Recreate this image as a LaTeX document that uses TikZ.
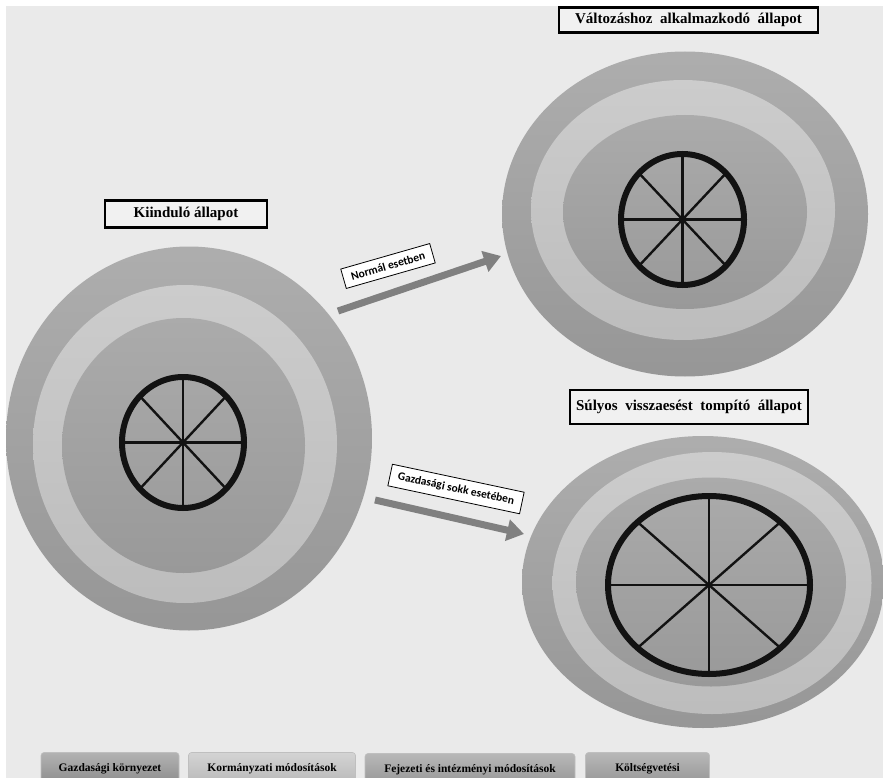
\documentclass[tikz,border=0pt]{standalone}
\usepackage{fontspec}
\setmainfont{Liberation Serif}
\newfontfamily\labelfont{Carlito}
\usetikzlibrary{arrows.meta}
\definecolor{bg}{HTML}{EAEAEA}
\definecolor{arrowgray}{HTML}{808080}
\definecolor{titlefill}{HTML}{F1F1F1}
\tikzset{
  outerring/.style={top color=black!32, bottom color=black!41},
  midring/.style={top color=black!20, bottom color=black!26},
  innerring/.style={top color=black!33, bottom color=black!40},
  spoke/.style={draw=black!93, line width=2.4pt},
  rim/.style={draw=black!93, line width=6pt},
  titlebox/.style={draw=black, line width=2.2pt, fill=titlefill, inner sep=0pt,
    font=\bfseries\fontsize{15}{18}\selectfont},
  bigarrow/.style={draw=arrowgray, line width=7pt, -{Triangle[length=17pt,width=21pt]}},
  lab/.style={draw=black, fill=white, line width=0.8pt, inner xsep=8pt, inner ysep=6pt,
    font=\labelfont\bfseries\fontsize{11.5}{13}\selectfont},
  legbtn/.style={rounded corners=3pt, draw=black!25, line width=0.6pt, inner sep=0pt,
    minimum height=29pt, text depth=0pt, font=\bfseries\fontsize{11.5}{13}\selectfont}
}
\newcommand\mywheel[5]{%
  \coordinate (#1) at (#2,#3);
  \foreach \a in {0,45,...,315}{\draw[spoke] (#1) -- ++({#4*cos(\a)},{#5*sin(\a)});}
  \draw[rim] (#1) ellipse [x radius=#4pt, y radius=#5pt];
}
\begin{document}
\begin{tikzpicture}[x=1pt,y=-1pt]
\useasboundingbox (0,0) rectangle (883,778);
\fill[white] (0,0) rectangle (883,778);
\fill[bg] (6,6) rectangle (883,778);
\begin{scope}
\clip (6,6) rectangle (883,778);
% left target
\shade[outerring] (189,438.5) ellipse [x radius=183pt, y radius=192pt];
\shade[midring] (185,444) ellipse [x radius=152pt, y radius=159pt];
\shade[innerring] (183.5,445.5) ellipse [x radius=121.5pt, y radius=127.5pt];
\mywheel{w1}{183}{442.5}{61}{65.5}
% top right target
\shade[outerring] (685,214) ellipse [x radius=183pt, y radius=162.5pt];
\shade[midring] (683,210) ellipse [x radius=152pt, y radius=130pt];
\shade[innerring] (685,212) ellipse [x radius=122pt, y radius=97pt];
\mywheel{w2}{682.5}{219.5}{61.5}{65.5}
% bottom right target
\shade[outerring] (703,582) ellipse [x radius=181pt, y radius=146pt];
\shade[midring] (712,583) ellipse [x radius=159.5pt, y radius=131pt];
\shade[innerring] (711,582) ellipse [x radius=135pt, y radius=104.5pt];
\mywheel{w3}{709}{585}{101}{89}
\end{scope}
% titles
\node[titlebox, minimum width=162pt, minimum height=27pt] (t1) at (186,214) {Kiinduló állapot};
\node[titlebox, minimum width=259pt, minimum height=25pt] (t2) at (688.5,20) {Változáshoz\ \ alkalmazkodó\ \ állapot};
\node[titlebox, minimum width=238pt, minimum height=34pt] (t3) at (689,407) {Súlyos\ \ visszaesést\ \ tompító\ \ állapot};
% arrows
\coordinate (a1s) at (338,311);
\coordinate (a1e) at (501,256);
\draw[bigarrow] (a1s) -- (a1e);
\coordinate (a2s) at (375,500);
\coordinate (a2e) at (524,534);
\draw[bigarrow] (a2s) -- (a2e);
\node[lab, rotate=16] (l1) at (388,266) {Normál esetben};
\node[lab, rotate=-12] (l2) at (456,489) {Gazdasági sokk esetében};
% legend
\node[legbtn, minimum width=138pt, top color=black!30, bottom color=black!44] (b1) at (110,767) {Gazdasági környezet};
\node[legbtn, minimum width=167pt, top color=black!17, bottom color=black!27] (b2) at (272,767) {Kormányzati módosítások};
\node[legbtn, minimum width=210pt, top color=black!28, bottom color=black!40] (b3) at (470,768) {Fejezeti és intézményi módosítások};
\node[legbtn, minimum width=124pt, top color=black!28, bottom color=black!40] (b4) at (647.5,767) {Költségvetési};
\end{tikzpicture}
\end{document}
